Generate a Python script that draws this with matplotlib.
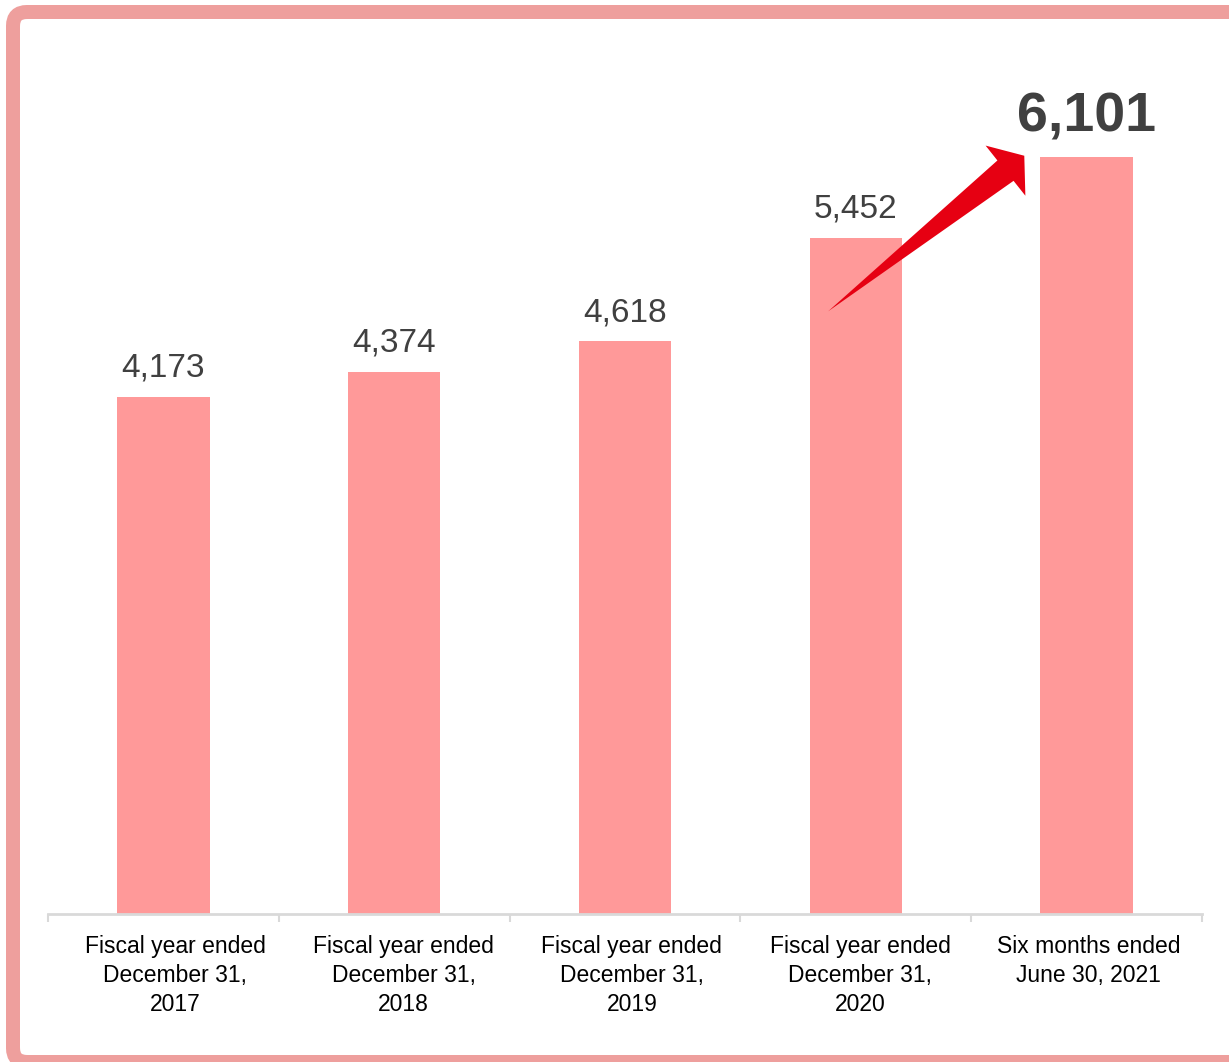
import numpy as np
import matplotlib.pyplot as plt
from matplotlib.patches import FancyBboxPatch, Polygon
from matplotlib.transforms import IdentityTransform

plt.rcParams['font.family'] = ['Liberation Sans', 'DejaVu Sans']

# dane
categories = ['Fiscal year ended\nDecember 31,\n2017',
              'Fiscal year ended\nDecember 31,\n2018',
              'Fiscal year ended\nDecember 31,\n2019',
              'Fiscal year ended\nDecember 31,\n2020',
              'Six months ended\nJune 30, 2021']
values = [4173, 4374, 4618, 5452, 6101]
value_labels = ['4,173', '4,374', '4,618', '5,452', '6,101']

# strzalka od slupka 2020 do 2021 (wspolrzedne danych)
arrow_tail = (2.88, 4860)
arrow_tip = (3.73, 6115)

bar_color = '#FF9999'
frame_color = '#EE9F9D'
text_color = '#404040'
arrow_color = '#E60012'
axis_color = '#D9D9D9'

W, H = 1229, 1062
fig = plt.figure(figsize=(W / 100, H / 100), dpi=100)
fig.patch.set_facecolor('white')

# ramka dookola
frame = FancyBboxPatch((13, 0), 1400, H - 12,
                       boxstyle='round,pad=0,rounding_size=14',
                       transform=IdentityTransform(), fill=False,
                       edgecolor=frame_color, linewidth=14 * 72 / 100)
fig.patches.append(frame)

ax = fig.add_axes([48 / W, (H - 914) / H, 1154 / W, 868 / H])
x = np.arange(len(values))
ax.bar(x, values, width=0.4, color=bar_color)
ax.set_xlim(-0.5, len(values) - 0.5)
ax.set_ylim(0, 7000)

for i, (v, lab) in enumerate(zip(values, value_labels)):
    if i == len(values) - 1:
        ax.annotate(lab, (i, v), xytext=(0, 18.5), textcoords='offset points',
                    ha='center', va='baseline', fontsize=40, fontweight='bold',
                    color=text_color)
    else:
        ax.annotate(lab, (i, v), xytext=(0, 14.4), textcoords='offset points',
                    ha='center', va='baseline', fontsize=24, color=text_color)

# podpisy osi sa lekko przesuniete wzgledem slupkow (jak w oryginale)
ax.set_xticks(x * 0.989 + 0.052)
ax.set_xticklabels(categories, fontsize=16.5, color='black', linespacing=1.35)
ax.tick_params(axis='x', which='major', length=0, pad=15)
ax.set_xticks(np.arange(-0.5, len(values), 1.0), minor=True)
ax.tick_params(axis='x', which='minor', length=6, width=1.5, color=axis_color)
ax.set_yticks([])
for s in ['top', 'right', 'left']:
    ax.spines[s].set_visible(False)
ax.spines['bottom'].set_color(axis_color)
ax.spines['bottom'].set_linewidth(2)

# strzalka jako wielokat w pikselach
fig.canvas.draw()
p0 = ax.transData.transform(arrow_tail)
pt = ax.transData.transform(arrow_tip)
u = (pt - p0) / np.hypot(*(pt - p0))
n = np.array([-u[1], u[0]])
base = pt - 24 * u
pts = [p0, base - 13 * n, base - 32 * n, pt, base + 32 * n, base + 13 * n]
fig.patches.append(Polygon(pts, closed=True, transform=IdentityTransform(),
                           facecolor=arrow_color, edgecolor='none', zorder=5))

fig.savefig('out.png', dpi=100)
